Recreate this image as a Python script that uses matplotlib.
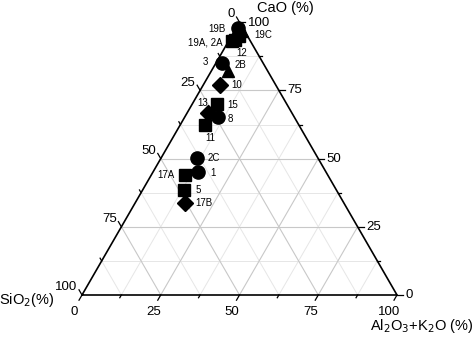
import numpy as np
import matplotlib
matplotlib.use("Agg")
import matplotlib.pyplot as plt

plt.rcParams['font.family'] = ['Liberation Sans', 'DejaVu Sans']

# ---- data: (CaO, Al2O3+K2O, SiO2) in % ----
names  = ["19B", "19C", "12", "19A", "2A", "3", "2B", "10", "15", "13", "8", "11",
          "2C", "1", "17A", "5", "17B"]
cao    = [98.0, 96.8, 94.9, 93.1, 93.5, 85.0, 82.1, 76.9, 70.0, 66.7, 65.2, 62.3,
          50.2, 45.1, 44.0, 38.5, 33.7]
al_k   = [0.5, 2.4, 2.4, 1.1, 1.8, 1.9, 5.3, 5.4, 7.9, 6.7, 10.6, 7.9,
          11.4, 14.3, 10.7, 13.2, 15.8]
sio2   = [100 - c - a for c, a in zip(cao, al_k)]
shapes = ["o", "^", "s", "s", "s", "o", "^", "D", "s", "D", "o", "s",
          "o", "o", "s", "s", "D"]
point_labels = ["19B", "19C", "12", "19A, 2A", "", "3", "2B", "10", "15", "13", "8", "11",
                "2C", "1", "17A", "5", "17B"]
label_offsets = [(-15, -1), (15, -3), (2, -12), (-19, -1), (0, 0), (-12, 1), (9, 4),
                 (12, 0), (11, -1), (-4, 7), (9, -1), (4, -9),
                 (12, 0), (11, -1), (-14, 0), (10, 0), (14, 0)]
tick_values = [0, 25, 50, 75, 100]
minor_values = [12.5, 37.5, 62.5, 87.5]

S3 = np.sqrt(3) / 2


def tern(c, a):
    """CaO (top), Al2O3+K2O (bottom right), SiO2 (bottom left) -> cartesian"""
    c = np.asarray(c, float)
    a = np.asarray(a, float)
    return a + c / 2, c * S3


fig = plt.figure(figsize=(4.74, 3.39), dpi=100)
ax = fig.add_axes([0, 0, 1, 1])
scale = 3.15
ax.set_xlim(-82 / scale, (474 - 82) / scale)
ax.set_ylim((295 - 339) / scale, 295 / scale)
ax.axis("off")

# grid
for vals, col, lw in ((minor_values, "#e6e6e6", 0.7), ([25, 50, 75], "#c8c8c8", 0.8)):
    for v in vals:
        x, y = tern([v, v], [0, 100 - v]); ax.plot(x, y, color=col, lw=lw, zorder=1)
        x, y = tern([0, 100 - v], [v, v]); ax.plot(x, y, color=col, lw=lw, zorder=1)
        x, y = tern([100 - v, 0], [0, 100 - v]); ax.plot(x, y, color=col, lw=lw, zorder=1)

# frame
x, y = tern([0, 0, 100, 0], [0, 100, 0, 0])
ax.plot(x, y, color="black", lw=1.2, zorder=2)

L = 1.9
Lm = 1.0
for v in tick_values + minor_values:
    ln = L if v in tick_values else Lm
    x0, y0 = tern(v, 100 - v)
    ax.plot([x0, x0 + ln], [y0, y0], color="black", lw=0.9, zorder=2)
    x0, y0 = tern(0, v)
    ax.plot([x0, x0 - 0.5 * ln], [y0, y0 - S3 * ln], color="black", lw=0.9, zorder=2)
    x0, y0 = tern(100 - v, 0)
    ax.plot([x0, x0 - 0.5 * ln], [y0, y0 + S3 * ln], color="black", lw=0.9, zorder=2)

fs = 9.5
for v in tick_values:
    x0, y0 = tern(v, 100 - v)
    ax.text(x0 + 2.6, y0 - (0.4 if v == 100 else 0), f"{v}", ha="left", va="center", fontsize=fs)
    x0, y0 = tern(0, v)
    ax.text(x0 - 2.4, y0 - 5.4, f"{v}", ha="center", va="center", fontsize=fs)
    x0, y0 = tern(100 - v, 0)
    ax.text(x0 - 1.5, y0 + 2.5, f"{v}", ha="right", va="center", fontsize=fs)

# axis titles
ax.text((285 - 82) / scale, (295 - 8) / scale, "CaO (%)", ha="center", va="center", fontsize=10.5)
ax.text((27 - 82) / scale, (295 - 300) / scale, "SiO$_2$(%)", ha="center", va="center", fontsize=10.5)
ax.text((422 - 82) / scale, (295 - 326) / scale, "Al$_2$O$_3$+K$_2$O (%)", ha="center", va="center", fontsize=10.5)

# points
sizes = {"o": 9.5, "s": 8.5, "^": 9, "D": 8}
for c, a, m in zip(cao, al_k, shapes):
    x, y = tern(c, a)
    ax.plot(x, y, marker=m, ms=sizes[m], color="black", ls="none", zorder=5)

for c, a, lab, off in zip(cao, al_k, point_labels, label_offsets):
    if not lab:
        continue
    x, y = tern(c, a)
    ax.annotate(lab, (x, y), xytext=off, textcoords="offset points",
                ha="center", va="center", fontsize=7, zorder=6)

fig.savefig("out.png", dpi=100)
